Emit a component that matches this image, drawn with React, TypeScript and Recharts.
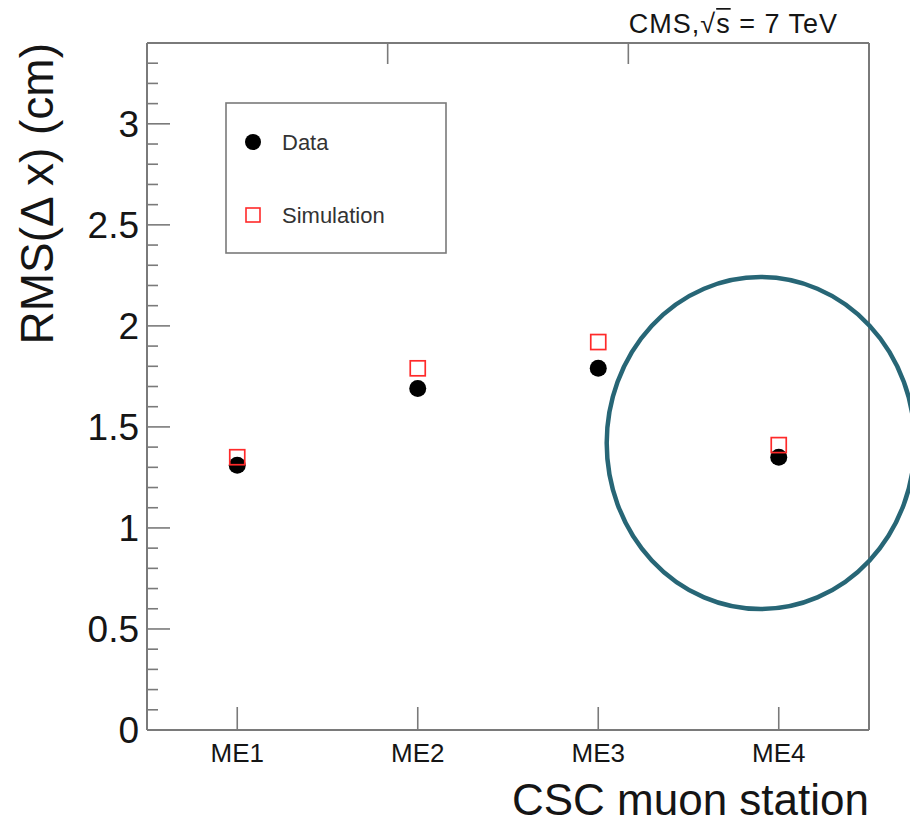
import React from 'react';
import {
  ComposedChart, Scatter, XAxis, YAxis, ReferenceDot, Legend,
} from 'recharts';

// RMS of the track–segment residual per CSC station, data vs simulation.
const STATIONS = ['ME1', 'ME2', 'ME3', 'ME4'];
const DATA_RMS = [1.31, 1.69, 1.79, 1.35];
const SIM_RMS = [1.35, 1.79, 1.92, 1.41];

const X_TICKS = [1, 2, 3, 4];
const Y_TICKS = [
  0, 0.1, 0.2, 0.3, 0.4, 0.5, 0.6, 0.7, 0.8, 0.9,
  1, 1.1, 1.2, 1.3, 1.4, 1.5, 1.6, 1.7, 1.8, 1.9,
  2, 2.1, 2.2, 2.3, 2.4, 2.5, 2.6, 2.7, 2.8, 2.9,
  3, 3.1, 3.2, 3.3,
];

// highlight ring around the ME4 station
const RING_CENTER = { x: 3.9, y: 1.42 };

const FONT = '"Liberation Sans", Arial, Helvetica, sans-serif';
const FRAME = '#7a7a7a';
const INK = '#151515';
const SIM_RED = '#ff2a2a';
const RING = '#276676';
const MAJOR = 23;
const MINOR = 11;

const rows = STATIONS.map((name, i) => ({ x: i + 1, name, data: DATA_RMS[i], sim: SIM_RMS[i] }));

const isMajor = (v: number) => Math.abs(v * 2 - Math.round(v * 2)) < 1e-6;

function LeftTick(props: any) {
  const { x, y, payload } = props;
  const v = payload.value as number;
  const len = isMajor(v) ? MAJOR : MINOR;
  return (
    <g>
      <line x1={x} y1={y} x2={x + len} y2={y} stroke={FRAME} strokeWidth={1.6} />
      {isMajor(v) && (
        <text x={x - 8} y={y} dy="0.36em" textAnchor="end" fontSize={37} fill={INK} fontFamily={FONT}>
          {String(+v.toFixed(1))}
        </text>
      )}
    </g>
  );
}

function RightTick(props: any) {
  const { x, y, payload } = props;
  const len = isMajor(payload.value) ? MAJOR : MINOR;
  return <line x1={x} y1={y} x2={x - len} y2={y} stroke={FRAME} strokeWidth={1.6} />;
}

function BottomTick(props: any) {
  const { x, y, payload } = props;
  return (
    <g>
      <line x1={x} y1={y} x2={x} y2={y - MAJOR} stroke={FRAME} strokeWidth={1.6} />
      <text x={x} y={y + 32} textAnchor="middle" fontSize={26} fill={INK} fontFamily={FONT}>
        {STATIONS[payload.value - 1]}
      </text>
    </g>
  );
}

function TopTick(props: any) {
  const { x, y } = props;
  return <line x1={x} y1={y} x2={x} y2={y + 21} stroke={FRAME} strokeWidth={1.6} />;
}

function LegendBox() {
  return (
    <svg width={222} height={152} style={{ display: 'block' }}>
      <rect x={1} y={1} width={220} height={150} fill="#fff" stroke={FRAME} strokeWidth={1.6} />
      <circle cx={28} cy={40} r={8} fill="#000" />
      <text x={57} y={40} dy="0.36em" fontSize={22} fill="#333" fontFamily={FONT}>Data</text>
      <rect x={21} y={106} width={14} height={14} fill="none" stroke={SIM_RED} strokeWidth={1.6} />
      <text x={57} y={113} dy="0.36em" fontSize={22} fill="#333" fontFamily={FONT}>Simulation</text>
    </svg>
  );
}

export default function App() {
  return (
    <div>
      {/* no scrollbars; the ring runs past the right edge of the chart surface */}
      <style>{'html, body { overflow: hidden; } .recharts-wrapper, .recharts-surface { overflow: visible !important; }'}</style>
      <ComposedChart width={910} height={808} data={rows} margin={{ top: 0, right: 0, bottom: 0, left: 0 }}>
        <XAxis
          dataKey="x" type="number" domain={[0.5, 4.5]} ticks={X_TICKS} interval={0}
          height={86} tickSize={0} tickMargin={0} tick={<BottomTick />}
          axisLine={{ stroke: FRAME, strokeWidth: 2 }} tickLine={false}
          label={{
            content: ({ viewBox }: any) => (
              <text x={viewBox.x + viewBox.width} y={viewBox.y + 85} textAnchor="end"
                    fontSize={44} fill={INK} fontFamily={FONT}>CSC muon station</text>
            ),
          }}
        />
        <XAxis
          xAxisId="top" orientation="top" type="number" domain={[0.5, 4.5]} ticks={X_TICKS} interval={0}
          height={35} tickSize={0} tickMargin={0} tick={<TopTick />}
          axisLine={{ stroke: FRAME, strokeWidth: 2 }} tickLine={false}
        />
        <YAxis
          type="number" domain={[0, 3.4]} ticks={Y_TICKS} interval={0} width={139}
          tickSize={0} tickMargin={0} tick={<LeftTick />}
          axisLine={{ stroke: FRAME, strokeWidth: 2 }} tickLine={false}
          label={{
            content: ({ viewBox }: any) => (
              <text x={viewBox.x + 45} y={viewBox.y} textAnchor="end" fontSize={46} fill={INK}
                    fontFamily={FONT} transform={`rotate(-90 ${viewBox.x + 45} ${viewBox.y})`}>
                RMS(Δ x) (cm)
              </text>
            ),
          }}
        />
        <YAxis
          yAxisId="right" orientation="right" type="number" domain={[0, 3.4]} ticks={Y_TICKS} interval={0}
          width={49} tickSize={0} tickMargin={0} tick={<RightTick />}
          axisLine={{ stroke: FRAME, strokeWidth: 2 }} tickLine={false}
        />
        <Legend
          layout="vertical" align="center" verticalAlign="middle"
          wrapperStyle={{ position: 'absolute', left: 217, top: 94, width: 222, height: 152 }}
          content={() => <LegendBox />}
        />
        <Scatter
          name="Data" dataKey="data" fill="#000" isAnimationActive={false}
          shape={(p: any) => <circle cx={p.cx} cy={p.cy} r={8.5} fill="#000" />}
        />
        <Scatter
          name="Simulation" dataKey="sim" fill={SIM_RED} isAnimationActive={false}
          shape={(p: any) => (
            <rect x={p.cx - 7.5} y={p.cy - 7.5} width={15} height={15} fill="none" stroke={SIM_RED} strokeWidth={1.7} />
          )}
        />
        <ReferenceDot
          x={RING_CENTER.x} y={RING_CENTER.y} ifOverflow="visible"
          shape={(p: any) => (
            <ellipse cx={p.cx} cy={p.cy} rx={154} ry={166} fill="none" stroke={RING} strokeWidth={4.5} />
          )}
        />
        <text x={830} y={25} textAnchor="end" fontSize={27} fill={INK} fontFamily={FONT} letterSpacing={1}>
          CMS,√<tspan style={{ textDecoration: 'overline' }}>s</tspan> = 7 TeV
        </text>
      </ComposedChart>
    </div>
  );
}
